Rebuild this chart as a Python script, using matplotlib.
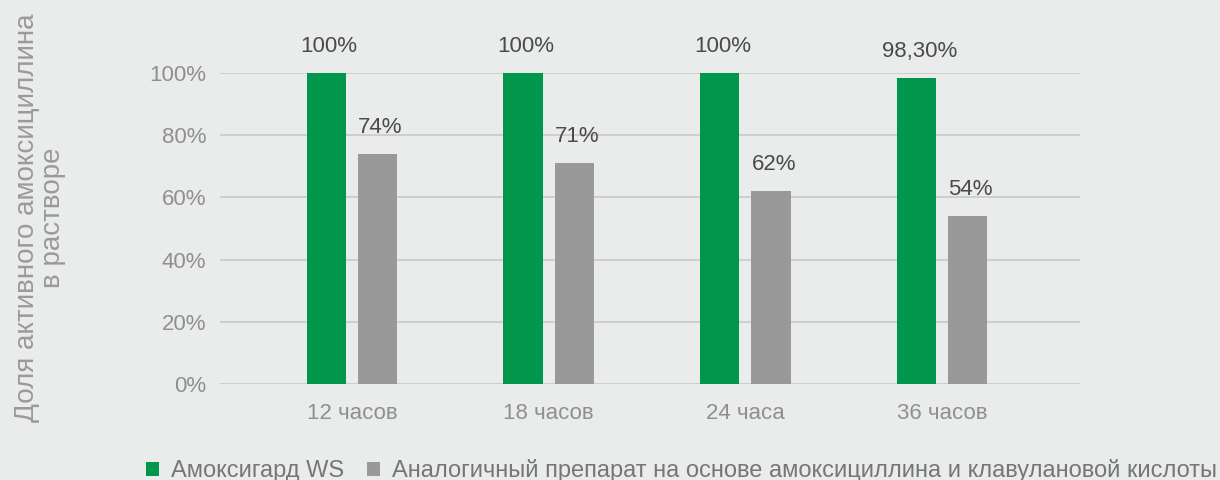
"""
Bar chart: share of active amoxicillin remaining in solution over time
"""
import numpy as np
import matplotlib
import matplotlib.pyplot as plt
from matplotlib.patches import Patch
from matplotlib.ticker import PercentFormatter

matplotlib.use('Agg')

categories = ['12 часов', '18 часов', '24 часа', '36 часов']
amoxigard = [100, 100, 100, 98.3]
amoxigard_labels = ['100%', '100%', '100%', '98,30%']
analog = [74, 71, 62, 54]
analog_labels = ['74%', '71%', '62%', '54%']
series_names = ['Амоксигард WS',
                'Аналогичный препарат на основе амоксициллина и клавулановой кислоты']
y_label = 'Доля активного амоксициллина\nв растворе'

bg = '#e9eceb'
green = '#00964b'
grey = '#999999'

plt.rcParams['font.family'] = ['Liberation Sans', 'DejaVu Sans']

fig = plt.figure(figsize=(12.2, 4.8), dpi=100, facecolor=bg)
ax = fig.add_axes([0.1803, 0.2, 0.7049, 0.648], facecolor=bg)

x = np.arange(len(categories))
w = 0.2
off = 0.13
b1 = ax.bar(x - off, amoxigard, w, color=green, zorder=3)
b2 = ax.bar(x + off, analog, w, color=grey, zorder=3)

for bars, labels in ((b1, amoxigard_labels), (b2, analog_labels)):
    for rect, lab in zip(bars, labels):
        ax.annotate(lab, (rect.get_x() + rect.get_width() / 2, rect.get_height()),
                    xytext=(2, 19), textcoords='offset points',
                    ha='center', va='center', fontsize=16, color='#4a4a4a',
                    annotation_clip=False)

ax.set_xlim(-0.67, 3.70)
ax.set_ylim(0, 100)
ax.set_yticks([0, 20, 40, 60, 80, 100])
ax.yaxis.set_major_formatter(PercentFormatter(decimals=0))
ax.set_xticks(x)
ax.set_xticklabels(categories)
ax.tick_params(axis='y', length=0, pad=10, labelsize=16, labelcolor='#8f8f8f')
ax.tick_params(axis='x', length=0, pad=14, labelsize=16, labelcolor='#8f8f8f')
ax.grid(axis='y', color='#c8c8c8', linewidth=1.2, zorder=0)
for s in ax.spines.values():
    s.set_visible(False)

fig.text(0.033, 0.546, y_label, rotation=90, ha='center', va='center',
         fontsize=20, color='#9a9a9a', linespacing=1.0, multialignment='center')

handles = [Patch(facecolor=green), Patch(facecolor=grey)]
fig.legend(handles, series_names, loc='center', bbox_to_anchor=(0.5586, 0.019),
           ncol=2, frameon=False, fontsize=17, handlelength=0.55, handleheight=0.55,
           handletextpad=0.5, columnspacing=1.0, labelcolor='#767676')

fig.savefig('out.png', facecolor=bg)
